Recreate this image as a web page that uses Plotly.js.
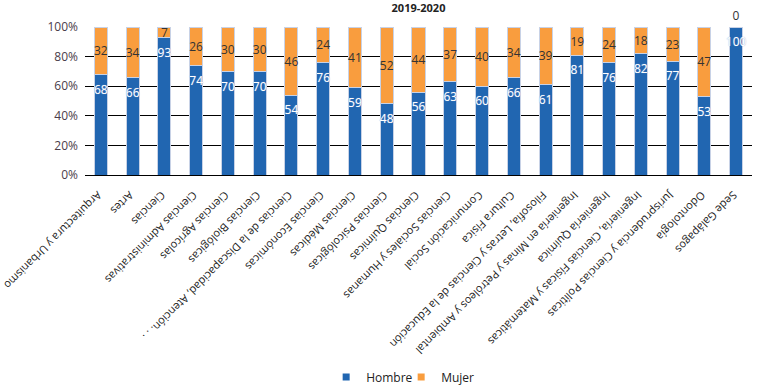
<!DOCTYPE html>
<html>
<head>
<meta charset="utf-8">
<script src="https://cdn.plot.ly/plotly-3.0.1.min.js"></script>
<style>html,body{margin:0;padding:0;background:#fff;}#chart{width:768px;height:389px;}</style>
</head>
<body>
<div id="chart"></div>
<script>
const categories = [
  "Arquitectura y Urbanismo",
  "Artes",
  "Ciencias",
  "Ciencias Administrativas",
  "Ciencias Agrícolas",
  "Ciencias Biológicas",
  "Ciencias de la Discapacidad, Atención. . .",
  "Ciencias Económicas",
  "Ciencias Médicas",
  "Ciencias Psicológicas",
  "Ciencias Químicas",
  "Ciencias Sociales y Humanas",
  "Comunicación Social",
  "Cultura Física",
  "Filosofía, Letras y Ciencias de la Educación",
  "Ingeniería en Minas y Petróleos y Ambiental",
  "Ingeniería Química",
  "Ingeniería, Ciencias Físicas y Matemáticas",
  "Jurisprudencia y Ciencias Políticas",
  "Odontología",
  "Sede Galápagos"
];
const hombre = [68, 66, 93, 74, 70, 70, 54, 76, 59, 48, 56, 63, 60, 66, 61, 81, 76, 82, 77, 53, 100];
const mujer  = [32, 34, 7, 26, 30, 30, 46, 24, 41, 52, 44, 37, 40, 34, 39, 19, 24, 18, 23, 47, 0];
const seriesNames = ["Hombre", "Mujer"];
const yTicks = [0, 20, 40, 60, 80, 100];
const yTickLabels = ["0%", "20%", "40%", "60%", "80%", "100%"];

const FONT = "Open Sans, DejaVu Sans, sans-serif";
const BLUE = "#2166b1";
const ORANGE = "#f99d3e";
const EDGE = "#c8d2e6";
const LABEL_DROP = 11; // Hombre labels sit a little below the top of their bar

const traces = [
  {
    type: "bar", name: seriesNames[0], x: categories, y: hombre,
    marker: {color: BLUE, line: {color: EDGE, width: 1}},
    showlegend: false, hoverinfo: "none"
  },
  {
    type: "bar", name: seriesNames[1], x: categories, y: mujer,
    marker: {color: ORANGE, line: {color: EDGE, width: 1}},
    text: mujer.map(String),
    textposition: mujer.map(v => v === 0 ? "outside" : "inside"),
    insidetextanchor: "middle",
    textfont: {color: "#333333", size: 12, family: FONT},
    outsidetextfont: {color: "#333333", size: 12, family: FONT},
    constraintext: "none", textangle: 0, cliponaxis: false,
    showlegend: false, hoverinfo: "none"
  },
  {
    type: "scatter", mode: "text", x: categories, y: hombre.map(v => v - LABEL_DROP),
    text: hombre.map(String), textposition: "middle center",
    textfont: {color: "#ffffff", size: 12, family: FONT, shadow: "0px 0px 1px #7f9dd2"},
    showlegend: false, hoverinfo: "none", cliponaxis: false
  },
  {
    type: "scatter", mode: "markers", name: seriesNames[0], x: [null], y: [null],
    marker: {symbol: "square", size: 7, color: BLUE}, hoverinfo: "none"
  },
  {
    type: "scatter", mode: "markers", name: seriesNames[1], x: [null], y: [null],
    marker: {symbol: "square", size: 7, color: ORANGE}, hoverinfo: "none"
  }
];

const layout = {
  width: 768, height: 389,
  margin: {l: 85, r: 16, t: 27, b: 214, autoexpand: false},
  paper_bgcolor: "#ffffff", plot_bgcolor: "#ffffff",
  font: {family: FONT, size: 11, color: "#333"},
  barmode: "stack", bargap: 0.59,
  title: {text: "<b>2019-2020</b>", font: {size: 11, color: "#222", family: FONT},
          x: 0.5, xref: "paper", y: 1 - 8/389, yanchor: "middle"},
  xaxis: {
    type: "category", range: [-0.5, 20.5],
    tickangle: 135, ticks: "", showgrid: false, showline: false, zeroline: false,
    ticklabelstandoff: 13,
    tickfont: {size: 11, color: "#222", family: FONT}, automargin: false
  },
  yaxis: {
    range: [0, 100], tickvals: yTicks, ticktext: yTickLabels,
    showgrid: true, gridcolor: "#000", gridwidth: 1,
    zeroline: true, zerolinecolor: "#000", zerolinewidth: 1,
    showline: false, ticks: "", ticklabelstandoff: 6,
    tickfont: {size: 12, color: "#4a3d4a", family: FONT}, automargin: false
  },
  showlegend: true,
  legend: {orientation: "h", x: 0.474, xanchor: "center", y: -1.365, yanchor: "middle",
           font: {size: 12, color: "#222", family: FONT}, itemwidth: 30,
           entrywidth: 30, entrywidthmode: "pixels", traceorder: "normal"}
};

Plotly.newPlot("chart", traces, layout, {staticPlot: true, displayModeBar: false});
</script>
</body>
</html>
